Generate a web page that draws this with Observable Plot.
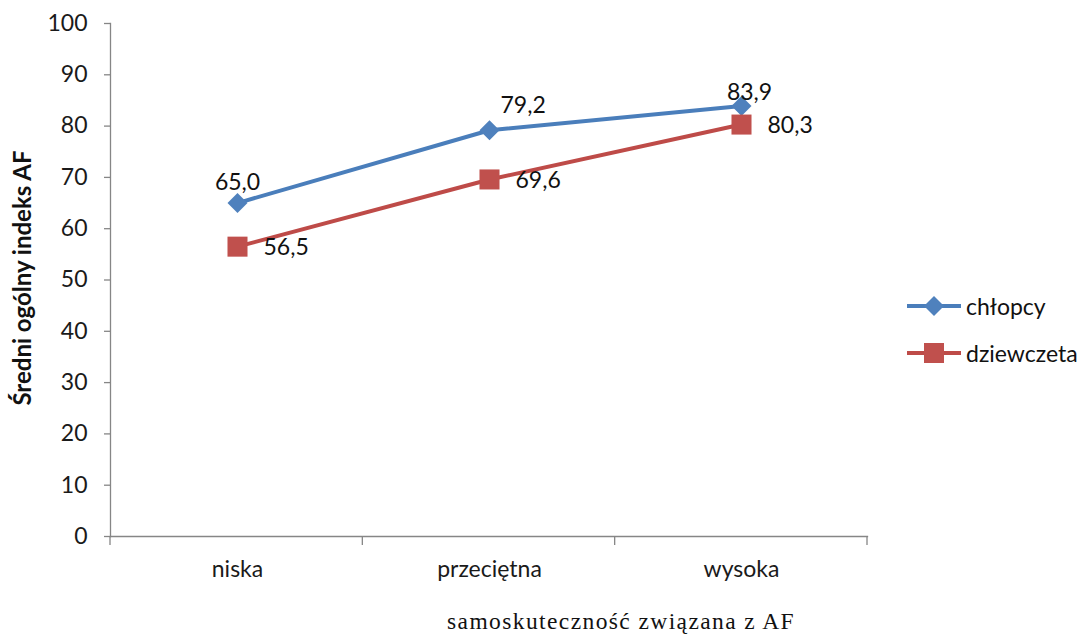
<!DOCTYPE html>
<html><head><meta charset="utf-8">
<script src="https://cdn.jsdelivr.net/npm/d3@7"></script>
<script src="https://cdn.jsdelivr.net/npm/@observablehq/plot@0.6"></script>
<style>
body{margin:0;background:#fff;}
#wrap{position:relative;width:1089px;height:637px;font-family:Lato,sans-serif;}
.legend{position:absolute;left:906px;top:282px;font-family:Lato,sans-serif;font-size:23px;color:#111;}
.legend .row{display:flex;align-items:center;height:47px;}
.legend svg{margin-right:4px;}
</style></head><body><div id="wrap"></div>
<script>
const categories = ["niska", "przeciętna", "wysoka"];
const seriesNames = ["chłopcy", "dziewczeta"];
const chlopcy = [65.0, 79.2, 83.9];
const dziewczeta = [56.5, 69.6, 80.3];
const yTicks = [0, 10, 20, 30, 40, 50, 60, 70, 80, 90, 100];
const xTitle = "samoskuteczność związana z AF";
const yTitle = "Średni ogólny indeks AF";
const colors = ["#4A7EBB", "#BE4B48"];
const markerColors = ["#4F81BD", "#C0504D"];

const fmt = v => v.toFixed(1).replace(".", ",");
const rows = [
  ...categories.map((c, i) => ({cat: c, v: chlopcy[i], s: seriesNames[0], i})),
  ...categories.map((c, i) => ({cat: c, v: dziewczeta[i], s: seriesNames[1], i}))
];
const boys = rows.filter(d => d.s === seriesNames[0]);
const girls = rows.filter(d => d.s === seriesNames[1]);

const diamond = {draw(ctx, size) {
  const h = Math.sqrt(size / 2);
  ctx.moveTo(0, -h); ctx.lineTo(h, 0); ctx.lineTo(0, h); ctx.lineTo(-h, 0); ctx.closePath();
}};

const axisColor = "#868686";

function bandTicks(index, scales, values, dims) {
  const x0 = dims.marginLeft, x1 = dims.width - dims.marginRight;
  const yb = dims.height - dims.marginBottom;
  const n = categories.length;
  const g = d3.create("svg:g");
  for (let k = 0; k <= n; k++) {
    const x = x0 + (x1 - x0) * k / n;
    g.append("line").attr("x1", x).attr("x2", x).attr("y1", yb).attr("y2", yb + 9)
      .attr("stroke", axisColor).attr("stroke-width", 1.3);
  }
  return g.node();
}

const plot = Plot.plot({
  width: 1089,
  height: 637,
  marginLeft: 110,
  marginRight: 222,
  marginTop: 23,
  marginBottom: 101,
  style: {fontFamily: "Lato, sans-serif", fontSize: "23px", color: "#1a1a1a", background: "#fff"},
  x: {type: "band", domain: categories, padding: 0, axis: null},
  y: {domain: [0, 100], axis: null},
  color: {domain: seriesNames, range: colors},
  marks: [
    Plot.axisY({ticks: yTicks, tickSize: 6, tickPadding: 17, stroke: axisColor, strokeWidth: 1.3, fontSize: 23, label: null, tickFormat: d => String(d)}),
    Plot.axisX({tickSize: 0, tickPadding: 24, fontSize: 23, label: null}),
    Plot.frame({anchor: "left", stroke: axisColor, strokeWidth: 1.3}),
    Plot.frame({anchor: "bottom", stroke: axisColor, strokeWidth: 1.3}),
    bandTicks,
    Plot.line(rows, {x: "cat", y: "v", z: "s", stroke: "s", strokeWidth: 4}),
    Plot.dot(boys, {x: "cat", y: "v", symbol: diamond, r: 8, fill: markerColors[0], stroke: "none"}),
    Plot.dot(girls, {x: "cat", y: "v", symbol: "square", r: 11.3, fill: markerColors[1], stroke: "none"}),
    Plot.text(boys.filter(d => d.i === 0), {x: "cat", y: "v", text: d => fmt(d.v), dy: -20, fontSize: 23, fill: "#111"}),
    Plot.text(boys.filter(d => d.i === 1), {x: "cat", y: "v", text: d => fmt(d.v), dx: 11, dy: -25, textAnchor: "start", fontSize: 23, fill: "#111"}),
    Plot.text(boys.filter(d => d.i === 2), {x: "cat", y: "v", text: d => fmt(d.v), dx: 8, dy: -13, fontSize: 23, fill: "#111"}),
    Plot.text(girls, {x: "cat", y: "v", text: d => fmt(d.v), dx: 26, dy: 1, textAnchor: "start", fontSize: 23, fill: "#111"}),
    Plot.text([yTitle], {frameAnchor: "left", text: d => d, rotate: -90, textAnchor: "middle", dx: -87, dy: -2, fontWeight: "bold", fontSize: 24, fill: "#111"}),
    Plot.text([xTitle], {frameAnchor: "bottom", text: d => d, textAnchor: "middle", dx: 132, dy: 92, fontFamily: "Liberation Serif, serif", fontSize: 23.5, fill: "#111"})
  ]
});
plot.querySelectorAll("text").forEach(t => {
  if (t.textContent === xTitle) t.setAttribute("letter-spacing", "1.4px");
});
const wrap = document.getElementById("wrap");
wrap.appendChild(plot);

const legend = document.createElement("div");
legend.className = "legend";
seriesNames.forEach((name, i) => {
  const row = document.createElement("div");
  row.className = "row";
  const sw = d3.create("svg").attr("width", 56).attr("height", 24);
  sw.append("line").attr("x1", 1).attr("x2", 55).attr("y1", 12).attr("y2", 12).attr("stroke", colors[i]).attr("stroke-width", 4);
  if (i === 0) sw.append("path").attr("d", "M28,2L38,12L28,22L18,12Z").attr("fill", markerColors[0]);
  else sw.append("rect").attr("x", 18).attr("y", 2).attr("width", 20).attr("height", 20).attr("fill", markerColors[1]);
  row.appendChild(sw.node());
  const t = document.createElement("span");
  t.textContent = name;
  row.appendChild(t);
  legend.appendChild(row);
});
wrap.appendChild(legend);
</script>
</body></html>
